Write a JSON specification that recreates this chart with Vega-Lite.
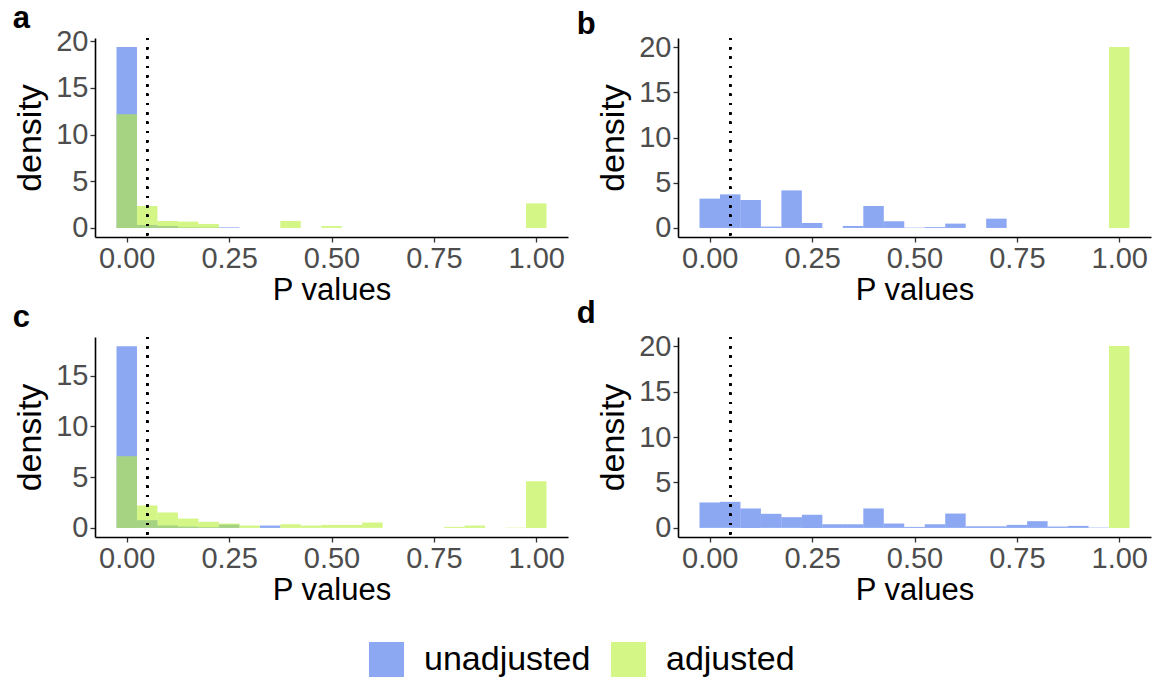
{
  "$schema": "https://vega.github.io/schema/vega-lite/v6.json",
  "background": "white",
  "padding": {"left": 12, "top": 3, "right": 4, "bottom": 2},
  "datasets": {
    "hist": [
      {"panel": "a", "group": "unadjusted", "p": 0.00, "density": 19.36},
      {"panel": "a", "group": "unadjusted", "p": 0.05, "density": 0.32},
      {"panel": "a", "group": "unadjusted", "p": 0.10, "density": 0.2},
      {"panel": "a", "group": "unadjusted", "p": 0.15, "density": 0.06},
      {"panel": "a", "group": "unadjusted", "p": 0.20, "density": 0.05},
      {"panel": "a", "group": "unadjusted", "p": 0.25, "density": 0.07},
      {"panel": "a", "group": "adjusted", "p": 0.00, "density": 12.17},
      {"panel": "a", "group": "adjusted", "p": 0.05, "density": 2.35},
      {"panel": "a", "group": "adjusted", "p": 0.10, "density": 0.75},
      {"panel": "a", "group": "adjusted", "p": 0.15, "density": 0.68},
      {"panel": "a", "group": "adjusted", "p": 0.20, "density": 0.43},
      {"panel": "a", "group": "adjusted", "p": 0.40, "density": 0.75},
      {"panel": "a", "group": "adjusted", "p": 0.50, "density": 0.2},
      {"panel": "a", "group": "adjusted", "p": 1.00, "density": 2.63},

      {"panel": "b", "group": "unadjusted", "p": 0.00, "density": 3.24},
      {"panel": "b", "group": "unadjusted", "p": 0.05, "density": 3.71},
      {"panel": "b", "group": "unadjusted", "p": 0.10, "density": 3.09},
      {"panel": "b", "group": "unadjusted", "p": 0.15, "density": 0.15},
      {"panel": "b", "group": "unadjusted", "p": 0.20, "density": 4.15},
      {"panel": "b", "group": "unadjusted", "p": 0.25, "density": 0.55},
      {"panel": "b", "group": "unadjusted", "p": 0.35, "density": 0.22},
      {"panel": "b", "group": "unadjusted", "p": 0.40, "density": 2.43},
      {"panel": "b", "group": "unadjusted", "p": 0.45, "density": 0.74},
      {"panel": "b", "group": "unadjusted", "p": 0.50, "density": 0.04},
      {"panel": "b", "group": "unadjusted", "p": 0.55, "density": 0.1},
      {"panel": "b", "group": "unadjusted", "p": 0.60, "density": 0.48},
      {"panel": "b", "group": "unadjusted", "p": 0.70, "density": 1.03},
      {"panel": "b", "group": "adjusted", "p": 1.00, "density": 20.0},

      {"panel": "c", "group": "unadjusted", "p": 0.00, "density": 17.9},
      {"panel": "c", "group": "unadjusted", "p": 0.05, "density": 0.76},
      {"panel": "c", "group": "unadjusted", "p": 0.10, "density": 0.23},
      {"panel": "c", "group": "unadjusted", "p": 0.15, "density": 0.13},
      {"panel": "c", "group": "unadjusted", "p": 0.20, "density": 0.07},
      {"panel": "c", "group": "unadjusted", "p": 0.25, "density": 0.33},
      {"panel": "c", "group": "unadjusted", "p": 0.35, "density": 0.23},
      {"panel": "c", "group": "adjusted", "p": 0.00, "density": 7.06},
      {"panel": "c", "group": "adjusted", "p": 0.05, "density": 2.21},
      {"panel": "c", "group": "adjusted", "p": 0.10, "density": 1.52},
      {"panel": "c", "group": "adjusted", "p": 0.15, "density": 0.92},
      {"panel": "c", "group": "adjusted", "p": 0.20, "density": 0.6},
      {"panel": "c", "group": "adjusted", "p": 0.25, "density": 0.43},
      {"panel": "c", "group": "adjusted", "p": 0.30, "density": 0.23},
      {"panel": "c", "group": "adjusted", "p": 0.40, "density": 0.36},
      {"panel": "c", "group": "adjusted", "p": 0.45, "density": 0.23},
      {"panel": "c", "group": "adjusted", "p": 0.50, "density": 0.3},
      {"panel": "c", "group": "adjusted", "p": 0.55, "density": 0.3},
      {"panel": "c", "group": "adjusted", "p": 0.60, "density": 0.53},
      {"panel": "c", "group": "adjusted", "p": 0.80, "density": 0.1},
      {"panel": "c", "group": "adjusted", "p": 0.85, "density": 0.23},
      {"panel": "c", "group": "adjusted", "p": 0.95, "density": 0.03},
      {"panel": "c", "group": "adjusted", "p": 1.00, "density": 4.59},

      {"panel": "d", "group": "unadjusted", "p": 0.00, "density": 2.8},
      {"panel": "d", "group": "unadjusted", "p": 0.05, "density": 2.87},
      {"panel": "d", "group": "unadjusted", "p": 0.10, "density": 2.14},
      {"panel": "d", "group": "unadjusted", "p": 0.15, "density": 1.55},
      {"panel": "d", "group": "unadjusted", "p": 0.20, "density": 1.18},
      {"panel": "d", "group": "unadjusted", "p": 0.25, "density": 1.44},
      {"panel": "d", "group": "unadjusted", "p": 0.30, "density": 0.4},
      {"panel": "d", "group": "unadjusted", "p": 0.35, "density": 0.4},
      {"panel": "d", "group": "unadjusted", "p": 0.40, "density": 2.14},
      {"panel": "d", "group": "unadjusted", "p": 0.45, "density": 0.48},
      {"panel": "d", "group": "unadjusted", "p": 0.50, "density": 0.11},
      {"panel": "d", "group": "unadjusted", "p": 0.55, "density": 0.4},
      {"panel": "d", "group": "unadjusted", "p": 0.60, "density": 1.58},
      {"panel": "d", "group": "unadjusted", "p": 0.65, "density": 0.18},
      {"panel": "d", "group": "unadjusted", "p": 0.70, "density": 0.18},
      {"panel": "d", "group": "unadjusted", "p": 0.75, "density": 0.33},
      {"panel": "d", "group": "unadjusted", "p": 0.80, "density": 0.74},
      {"panel": "d", "group": "unadjusted", "p": 0.85, "density": 0.15},
      {"panel": "d", "group": "unadjusted", "p": 0.90, "density": 0.22},
      {"panel": "d", "group": "unadjusted", "p": 0.95, "density": 0.04},
      {"panel": "d", "group": "adjusted", "p": 1.00, "density": 20.0}
    ]
  },
  "config": {
    "view": {"stroke": null},
    "font": "Liberation Sans",
    "axis": {
      "grid": false,
      "domainColor": "black",
      "domainWidth": 1.6,
      "tickColor": "#333333",
      "tickWidth": 1.3,
      "tickSize": 5,
      "labelColor": "#4D4D4D",
      "labelFontSize": 29,
      "labelPadding": 2,
      "titleFontSize": 31,
      "titleFontWeight": "normal",
      "titleColor": "black"
    },
    "axisY": {"titleFontSize": 34, "titlePadding": 8},
    "axisX": {"titlePadding": 2},
    "title": {"fontSize": 31, "fontWeight": "bold", "anchor": "start", "frame": "bounds", "color": "black"},
    "legend": {"layout": {"bottom": {"anchor": "middle"}}}
  },
  "concat": [
    {
      "width": 473, "height": 199,
      "title": {"text": "a", "dx": -1, "offset": -8},
      "data": {"name": "hist"},
      "transform": [
        {"filter": "datum.panel === 'a'"},
        {"calculate": "datum.p - 0.025", "as": "lo"},
        {"calculate": "datum.p + 0.025", "as": "hi"}
      ],
      "layer": [
        {
          "mark": {"type": "bar", "fillOpacity": 0.6},
          "encoding": {
            "x": {"field": "lo", "type": "quantitative", "scale": {"domain": [-0.0775, 1.0775], "nice": false, "zero": false}, "axis": {"values": [0, 0.25, 0.5, 0.75, 1], "format": ".2f", "title": "P values"}},
            "x2": {"field": "hi"},
            "y": {"field": "density", "type": "quantitative", "stack": null, "scale": {"domain": [-0.968, 20.33], "nice": false, "zero": false}, "axis": {"values": [0, 5, 10, 15, 20], "title": "density"}},
            "y2": {"datum": 0},
            "color": {"field": "group", "type": "nominal", "scale": {"domain": ["unadjusted", "adjusted"], "range": ["#416EEB", "#B7F035"]}, "legend": {"title": null, "orient": "bottom", "direction": "horizontal", "symbolType": "square", "symbolSize": 1225, "symbolOpacity": 0.6, "symbolStrokeWidth": 0, "labelFontSize": 34, "labelColor": "black", "labelLimit": 0, "labelOffset": 20, "columnPadding": 20, "offset": 37}}
          }
        },
        {
          "mark": {"type": "rule", "strokeDash": [2, 7.3], "strokeWidth": 2, "color": "black"},
          "encoding": {"x": {"datum": 0.05}}
        }
      ]
    },
    {
      "width": 473, "height": 199,
      "title": {"text": "b", "dx": -20, "offset": -8},
      "data": {"name": "hist"},
      "transform": [
        {"filter": "datum.panel === 'b'"},
        {"calculate": "datum.p - 0.025", "as": "lo"},
        {"calculate": "datum.p + 0.025", "as": "hi"}
      ],
      "layer": [
        {
          "mark": {"type": "bar", "fillOpacity": 0.6},
          "encoding": {
            "x": {"field": "lo", "type": "quantitative", "scale": {"domain": [-0.0775, 1.0775], "nice": false, "zero": false}, "axis": {"values": [0, 0.25, 0.5, 0.75, 1], "format": ".2f", "title": "P values"}},
            "x2": {"field": "hi"},
            "y": {"field": "density", "type": "quantitative", "stack": null, "scale": {"domain": [-1, 21], "nice": false, "zero": false}, "axis": {"values": [0, 5, 10, 15, 20], "title": "density"}},
            "y2": {"datum": 0},
            "color": {"field": "group", "type": "nominal", "scale": {"domain": ["unadjusted", "adjusted"], "range": ["#416EEB", "#B7F035"]}}
          }
        },
        {
          "mark": {"type": "rule", "strokeDash": [2, 7.3], "strokeWidth": 2, "color": "black"},
          "encoding": {"x": {"datum": 0.05}}
        }
      ]
    },
    {
      "width": 473, "height": 200,
      "title": {"text": "c", "dx": -1, "offset": 2},
      "data": {"name": "hist"},
      "transform": [
        {"filter": "datum.panel === 'c'"},
        {"calculate": "datum.p - 0.025", "as": "lo"},
        {"calculate": "datum.p + 0.025", "as": "hi"}
      ],
      "layer": [
        {
          "mark": {"type": "bar", "fillOpacity": 0.6},
          "encoding": {
            "x": {"field": "lo", "type": "quantitative", "scale": {"domain": [-0.0775, 1.0775], "nice": false, "zero": false}, "axis": {"values": [0, 0.25, 0.5, 0.75, 1], "format": ".2f", "title": "P values"}},
            "x2": {"field": "hi"},
            "y": {"field": "density", "type": "quantitative", "stack": null, "scale": {"domain": [-0.895, 18.8], "nice": false, "zero": false}, "axis": {"values": [0, 5, 10, 15], "title": "density"}},
            "y2": {"datum": 0},
            "color": {"field": "group", "type": "nominal", "scale": {"domain": ["unadjusted", "adjusted"], "range": ["#416EEB", "#B7F035"]}}
          }
        },
        {
          "mark": {"type": "rule", "strokeDash": [2, 7.3], "strokeWidth": 2, "color": "black"},
          "encoding": {"x": {"datum": 0.05}}
        }
      ]
    },
    {
      "width": 473, "height": 200,
      "title": {"text": "d", "dx": -20, "offset": 2},
      "data": {"name": "hist"},
      "transform": [
        {"filter": "datum.panel === 'd'"},
        {"calculate": "datum.p - 0.025", "as": "lo"},
        {"calculate": "datum.p + 0.025", "as": "hi"}
      ],
      "layer": [
        {
          "mark": {"type": "bar", "fillOpacity": 0.6},
          "encoding": {
            "x": {"field": "lo", "type": "quantitative", "scale": {"domain": [-0.0775, 1.0775], "nice": false, "zero": false}, "axis": {"values": [0, 0.25, 0.5, 0.75, 1], "format": ".2f", "title": "P values"}},
            "x2": {"field": "hi"},
            "y": {"field": "density", "type": "quantitative", "stack": null, "scale": {"domain": [-1, 21], "nice": false, "zero": false}, "axis": {"values": [0, 5, 10, 15, 20], "title": "density"}},
            "y2": {"datum": 0},
            "color": {"field": "group", "type": "nominal", "scale": {"domain": ["unadjusted", "adjusted"], "range": ["#416EEB", "#B7F035"]}}
          }
        },
        {
          "mark": {"type": "rule", "strokeDash": [2, 7.3], "strokeWidth": 2, "color": "black"},
          "encoding": {"x": {"datum": 0.05}}
        }
      ]
    }
  ],
  "columns": 2,
  "spacing": {"row": -7, "column": 8},
  "resolve": {"scale": {"x": "independent", "y": "independent", "color": "shared"}}
}
